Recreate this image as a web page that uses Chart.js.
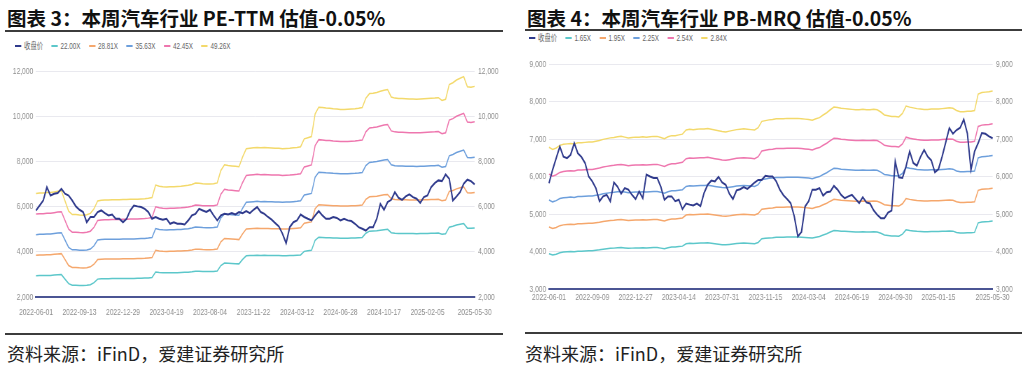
<!DOCTYPE html>
<html>
<head>
<meta charset="utf-8">
<script src="https://cdn.jsdelivr.net/npm/chart.js@4.4.1/dist/chart.umd.min.js"></script>
<style>
  body { margin: 0; width: 1022px; height: 372px; background: #fff; position: relative; overflow: hidden; font-family: "Noto Sans CJK SC", sans-serif; }
  .title { position: absolute; top: 7px; font-size: 19.5px; line-height: 22px; font-weight: bold; color: #111; white-space: nowrap; }
  .rule { position: absolute; height: 2px; background: #3c3c3c; }
  .src { position: absolute; top: 343px; font-size: 18px; line-height: 20px; color: #222; white-space: nowrap; }
  .legend { position: absolute; display: flex; font-family: "Liberation Sans", "Noto Sans CJK SC", sans-serif; font-size: 9px; line-height: 10px; color: #666; white-space: nowrap; transform: scaleX(0.7); transform-origin: 0 0; }
  .legend .item { display: flex; align-items: center; margin-right: 12px; }
  .legend .mark { width: 9px; height: 2px; margin-right: 4px; }
  canvas { position: absolute; transform: scaleX(0.7); transform-origin: 0 0; }
</style>
</head>
<body>
<div class="title" style="left:7px">图表 3：本周汽车行业 PE-TTM 估值-0.05%</div>
<div class="rule" style="left:5px;top:30px;width:498px"></div>
<div class="legend" id="peLegend" style="left:15px;top:41px"></div>
<canvas id="peChart" width="728" height="300" style="left:0;top:30px"></canvas>
<div class="rule" style="left:5px;top:333px;width:498px"></div>
<div class="src" style="left:7px">资料来源：iFinD，爱建证券研究所</div>

<div class="title" style="left:527px">图表 4：本周汽车行业 PB-MRQ 估值-0.05%</div>
<div class="rule" style="left:525px;top:29px;width:497px"></div>
<div class="legend" id="pbLegend" style="left:529px;top:33px"></div>
<canvas id="pbChart" width="728" height="300" style="left:512px;top:28px"></canvas>
<div class="rule" style="left:525px;top:332px;width:497px"></div>
<div class="src" style="left:525px">资料来源：iFinD，爱建证券研究所</div>

<script>
// ---- PE-TTM (chart 3) ----
const peTicks = ["2022-06-01", "2022-09-13", "2022-12-29", "2023-04-19", "2023-08-04", "2023-11-22", "2024-03-12", "2024-06-28", "2024-10-17", "2025-02-05", "2025-05-30"];
const peNames = ["收盘价", "22.00X", "28.81X", "35.63X", "42.45X", "49.26X"];

const peClose = [
  5830, 6050, 6270, 6860, 6490, 6570, 6600, 6790, 6570, 6490,
  6270, 6010, 5860, 5760, 5310, 5540, 5540, 5760, 5830, 5710,
  5610, 5650, 5460, 5460, 5310, 5460, 5830, 6050, 6010, 5980,
  5900, 5760, 5460, 5540, 5460, 5420, 5460, 5240, 5310, 5240,
  5240, 5210, 5390, 5610, 5680, 5900, 5830, 5760, 5860, 5610,
  5390, 5610, 5680, 5650, 5710, 5650, 5760, 5710, 5800, 5710,
  5860, 5980, 5760, 5680, 5540, 5420, 5270, 5120, 4800, 4380,
  5090, 5310, 5390, 5650, 5540, 5460, 5390, 5610, 5800, 5610,
  5460, 5460, 5540, 5500, 5390, 5460, 5390, 5360, 5240, 5090,
  5020, 4940, 5090, 5090, 5460, 6120, 5860, 6200, 6300, 6640,
  6390, 6300, 6450, 6540, 6420, 6350, 6160, 6420, 6490, 6860,
  7040, 7160, 7130, 7420, 7230, 6270, 6450, 6640, 7010, 7190,
  7130, 6980
];
const pe22 = [
  2939, 2948, 2948, 2956, 2956, 2970, 2983, 2992, 2791, 2590,
  2523, 2523, 2514, 2510, 2519, 2546, 2635, 2791, 2805, 2809,
  2809, 2814, 2814, 2814, 2818, 2818, 2823, 2823, 2827, 2831,
  2836, 2845, 2858, 3104, 3082, 3073, 3068, 3073, 3073, 3077,
  3082, 3091, 3099, 3117, 3144, 3140, 3131, 3126, 3126, 3131,
  3149, 3394, 3506, 3492, 3483, 3475, 3466, 3662, 3823, 3832,
  3841, 3850, 3841, 3845, 3841, 3836, 3832, 3832, 3823, 3827,
  3832, 3841, 3850, 3863, 4019, 4042, 4064, 4511, 4645, 4636,
  4627, 4622, 4613, 4609, 4600, 4600, 4604, 4609, 4613, 4622,
  4636, 4823, 4913, 4922, 4935, 4957, 4980, 4993, 4846, 4823,
  4814, 4814, 4810, 4805, 4805, 4801, 4805, 4810, 4814, 4819,
  4823, 4832, 4779, 4801, 5091, 5127, 5181, 5216, 5248, 5047,
  5038, 5055
];
const pe28 = [
  3849, 3860, 3860, 3872, 3872, 3890, 3907, 3919, 3656, 3392,
  3305, 3305, 3293, 3287, 3299, 3334, 3451, 3656, 3673, 3679,
  3679, 3685, 3685, 3685, 3691, 3691, 3697, 3697, 3702, 3708,
  3714, 3726, 3743, 4065, 4036, 4024, 4018, 4024, 4024, 4030,
  4036, 4048, 4059, 4083, 4118, 4112, 4100, 4094, 4094, 4100,
  4124, 4445, 4591, 4574, 4562, 4551, 4539, 4796, 5007, 5018,
  5030, 5042, 5030, 5036, 5030, 5024, 5018, 5018, 5007, 5013,
  5018, 5030, 5042, 5059, 5264, 5293, 5323, 5907, 6083, 6071,
  6060, 6054, 6042, 6036, 6024, 6024, 6030, 6036, 6042, 6054,
  6071, 6317, 6434, 6446, 6463, 6492, 6522, 6539, 6346, 6317,
  6305, 6305, 6299, 6294, 6294, 6288, 6294, 6299, 6305, 6311,
  6317, 6329, 6258, 6288, 6668, 6715, 6785, 6832, 6873, 6609,
  6598, 6621
];
const pe35 = [
  4759, 4774, 4774, 4788, 4788, 4810, 4832, 4846, 4521, 4195,
  4087, 4087, 4072, 4065, 4079, 4123, 4267, 4521, 4542, 4550,
  4550, 4557, 4557, 4557, 4564, 4564, 4571, 4571, 4579, 4586,
  4593, 4607, 4629, 5027, 4991, 4976, 4969, 4976, 4976, 4984,
  4991, 5005, 5020, 5049, 5092, 5085, 5070, 5063, 5063, 5070,
  5099, 5497, 5678, 5656, 5642, 5627, 5613, 5931, 6191, 6206,
  6220, 6235, 6220, 6228, 6220, 6213, 6206, 6206, 6191, 6199,
  6206, 6220, 6235, 6257, 6510, 6546, 6582, 7305, 7522, 7508,
  7493, 7486, 7472, 7464, 7450, 7450, 7457, 7464, 7472, 7486,
  7508, 7812, 7956, 7971, 7993, 8029, 8065, 8087, 7848, 7812,
  7797, 7797, 7790, 7783, 7783, 7775, 7783, 7790, 7797, 7804,
  7812, 7826, 7739, 7775, 8246, 8303, 8390, 8448, 8499, 8173,
  8159, 8188
];
const pe42 = [
  5671, 5688, 5688, 5705, 5705, 5731, 5757, 5774, 5386, 4998,
  4869, 4869, 4852, 4843, 4861, 4912, 5085, 5386, 5412, 5421,
  5421, 5429, 5429, 5429, 5438, 5438, 5447, 5447, 5455, 5464,
  5472, 5490, 5516, 5990, 5946, 5929, 5921, 5929, 5929, 5938,
  5946, 5964, 5981, 6015, 6067, 6058, 6041, 6033, 6033, 6041,
  6076, 6550, 6765, 6739, 6722, 6705, 6688, 7067, 7377, 7394,
  7411, 7429, 7411, 7420, 7411, 7403, 7394, 7394, 7377, 7386,
  7394, 7411, 7429, 7455, 7756, 7799, 7842, 8704, 8963, 8945,
  8928, 8920, 8902, 8894, 8877, 8877, 8885, 8894, 8902, 8920,
  8945, 9307, 9480, 9497, 9523, 9566, 9609, 9635, 9351, 9307,
  9290, 9290, 9282, 9273, 9273, 9264, 9273, 9282, 9290, 9299,
  9307, 9325, 9221, 9264, 9825, 9894, 9997, 10066, 10126, 9738,
  9721, 9756
];
const pe49 = [
  6580, 6600, 6600, 6620, 6620, 6650, 6680, 6700, 6250, 5800,
  5650, 5650, 5630, 5620, 5640, 5700, 5900, 6250, 6280, 6290,
  6290, 6300, 6300, 6300, 6310, 6310, 6320, 6320, 6330, 6340,
  6350, 6370, 6400, 6950, 6900, 6880, 6870, 6880, 6880, 6890,
  6900, 6920, 6940, 6980, 7040, 7030, 7010, 7000, 7000, 7010,
  7050, 7600, 7850, 7820, 7800, 7780, 7760, 8200, 8560, 8580,
  8600, 8620, 8600, 8610, 8600, 8590, 8580, 8580, 8560, 8570,
  8580, 8600, 8620, 8650, 9000, 9050, 9100, 10100, 10400, 10380,
  10360, 10350, 10330, 10320, 10300, 10300, 10310, 10320, 10330, 10350,
  10380, 10800, 11000, 11020, 11050, 11100, 11150, 11180, 10850, 10800,
  10780, 10780, 10770, 10760, 10760, 10750, 10760, 10770, 10780, 10790,
  10800, 10820, 10700, 10750, 11400, 11480, 11600, 11680, 11750, 11300,
  11280, 11320
];

// ---- PB-MRQ (chart 4) ----
const pbTicks = ["2022-06-01", "2022-09-09", "2022-12-27", "2023-04-14", "2023-07-31", "2023-11-15", "2024-03-04", "2024-06-19", "2024-09-30", "2025-01-15", "2025-05-30"];
const pbNames = ["收盘价", "1.65X", "1.95X", "2.25X", "2.54X", "2.84X"];

const pbClose = [
  5820, 6180, 6490, 6800, 6530, 6490, 6580, 6890, 6620, 6520,
  6360, 6000, 5870, 5690, 5340, 5470, 5510, 5340, 5840, 5730,
  5540, 5690, 5650, 5510, 5400, 5600, 5420, 6050, 6000, 5960,
  5960, 5730, 5380, 5470, 5470, 5340, 5380, 5130, 5280, 5250,
  5230, 5280, 5210, 5560, 5780, 5890, 5870, 5990, 5840, 5780,
  5540, 5400, 5630, 5660, 5720, 5670, 5750, 5840, 5910, 5910,
  6020, 6000, 6000, 5870, 5650, 5500, 5400, 5290, 4940, 4400,
  4520, 5200, 5340, 5650, 5650, 5690, 5490, 5580, 5600, 5750,
  5650, 5510, 5420, 5470, 5510, 5400, 5290, 5450, 5310, 5280,
  5100, 4980, 4890, 4890, 5040, 5090, 6400, 5980, 5960, 6270,
  6670, 6360, 6290, 6520, 6710, 6530, 6430, 6110, 6200, 6530,
  6910, 7290, 7140, 7240, 7300, 7520, 7150, 6180, 6670, 6890,
  7160, 7140, 7070, 7020
];
const pb165 = [
  3939, 3904, 3928, 3968, 3986, 3991, 3997, 3991, 4009, 4009,
  4015, 4021, 4021, 4032, 4044, 4061, 4073, 4084, 4090, 4102,
  4108, 4096, 4084, 4090, 4096, 4096, 4102, 4096, 4102, 4108,
  4108, 4090, 4073, 4102, 4119, 4119, 4131, 4143, 4206, 4218,
  4212, 4218, 4224, 4224, 4230, 4218, 4206, 4195, 4183, 4177,
  4189, 4201, 4212, 4218, 4224, 4218, 4212, 4206, 4241, 4340,
  4352, 4363, 4369, 4381, 4381, 4381, 4387, 4387, 4387, 4387,
  4381, 4375, 4369, 4358, 4381, 4398, 4439, 4474, 4520, 4561,
  4555, 4543, 4538, 4532, 4526, 4520, 4520, 4526, 4520, 4520,
  4526, 4520, 4485, 4439, 4427, 4416, 4416, 4410, 4462, 4578,
  4561, 4549, 4538, 4532, 4526, 4526, 4532, 4532, 4532, 4538,
  4543, 4549, 4543, 4509, 4491, 4491, 4497, 4497, 4509, 4764,
  4787, 4793, 4799, 4811
];
const pb195 = [
  4655, 4614, 4641, 4689, 4710, 4717, 4724, 4717, 4738, 4738,
  4744, 4751, 4751, 4765, 4779, 4799, 4813, 4827, 4834, 4847,
  4854, 4840, 4827, 4834, 4840, 4840, 4847, 4840, 4847, 4854,
  4854, 4834, 4813, 4847, 4868, 4868, 4882, 4895, 4971, 4985,
  4978, 4985, 4992, 4992, 4998, 4985, 4971, 4957, 4944, 4937,
  4950, 4964, 4978, 4985, 4992, 4985, 4978, 4971, 5012, 5129,
  5143, 5156, 5163, 5177, 5177, 5177, 5184, 5184, 5184, 5184,
  5177, 5170, 5163, 5150, 5177, 5198, 5246, 5287, 5342, 5390,
  5383, 5369, 5362, 5355, 5349, 5342, 5342, 5349, 5342, 5342,
  5349, 5342, 5301, 5246, 5232, 5218, 5218, 5211, 5273, 5410,
  5390, 5376, 5362, 5355, 5349, 5349, 5355, 5355, 5355, 5362,
  5369, 5376, 5369, 5328, 5307, 5307, 5314, 5314, 5328, 5630,
  5658, 5664, 5671, 5685
];
const pb225 = [
  5372, 5324, 5356, 5411, 5435, 5443, 5451, 5443, 5467, 5467,
  5475, 5483, 5483, 5499, 5514, 5538, 5554, 5570, 5578, 5594,
  5602, 5586, 5570, 5578, 5586, 5586, 5594, 5586, 5594, 5602,
  5602, 5578, 5554, 5594, 5617, 5617, 5633, 5649, 5736, 5752,
  5744, 5752, 5760, 5760, 5768, 5752, 5736, 5720, 5705, 5697,
  5712, 5728, 5744, 5752, 5760, 5752, 5744, 5736, 5784, 5918,
  5934, 5950, 5958, 5974, 5974, 5974, 5982, 5982, 5982, 5982,
  5974, 5966, 5958, 5942, 5974, 5998, 6053, 6101, 6164, 6220,
  6212, 6196, 6188, 6180, 6172, 6164, 6164, 6172, 6164, 6164,
  6172, 6164, 6116, 6053, 6037, 6021, 6021, 6014, 6085, 6243,
  6220, 6204, 6188, 6180, 6172, 6172, 6180, 6180, 6180, 6188,
  6196, 6204, 6196, 6148, 6124, 6124, 6132, 6132, 6148, 6497,
  6529, 6536, 6544, 6560
];
const pb254 = [
  6064, 6010, 6046, 6109, 6136, 6145, 6153, 6145, 6171, 6171,
  6180, 6189, 6189, 6207, 6225, 6252, 6270, 6288, 6297, 6314,
  6323, 6305, 6288, 6297, 6305, 6305, 6314, 6305, 6314, 6323,
  6323, 6297, 6270, 6314, 6341, 6341, 6359, 6377, 6475, 6493,
  6484, 6493, 6502, 6502, 6511, 6493, 6475, 6458, 6440, 6431,
  6449, 6467, 6484, 6493, 6502, 6493, 6484, 6475, 6529, 6681,
  6699, 6717, 6726, 6744, 6744, 6744, 6753, 6753, 6753, 6753,
  6744, 6735, 6726, 6708, 6744, 6771, 6833, 6887, 6958, 7021,
  7012, 6994, 6985, 6976, 6967, 6958, 6958, 6967, 6958, 6958,
  6967, 6958, 6905, 6833, 6815, 6797, 6797, 6789, 6869, 7048,
  7021, 7003, 6985, 6976, 6967, 6967, 6976, 6976, 6976, 6985,
  6994, 7003, 6994, 6940, 6914, 6914, 6923, 6923, 6940, 7334,
  7370, 7379, 7388, 7406
];
const pb284 = [
  6780, 6720, 6760, 6830, 6860, 6870, 6880, 6870, 6900, 6900,
  6910, 6920, 6920, 6940, 6960, 6990, 7010, 7030, 7040, 7060,
  7070, 7050, 7030, 7040, 7050, 7050, 7060, 7050, 7060, 7070,
  7070, 7040, 7010, 7060, 7090, 7090, 7110, 7130, 7240, 7260,
  7250, 7260, 7270, 7270, 7280, 7260, 7240, 7220, 7200, 7190,
  7210, 7230, 7250, 7260, 7270, 7260, 7250, 7240, 7300, 7470,
  7490, 7510, 7520, 7540, 7540, 7540, 7550, 7550, 7550, 7550,
  7540, 7530, 7520, 7500, 7540, 7570, 7640, 7700, 7780, 7850,
  7840, 7820, 7810, 7800, 7790, 7780, 7780, 7790, 7780, 7780,
  7790, 7780, 7720, 7640, 7620, 7600, 7600, 7590, 7680, 7880,
  7850, 7830, 7810, 7800, 7790, 7790, 7800, 7800, 7800, 7810,
  7820, 7830, 7820, 7760, 7730, 7730, 7740, 7740, 7760, 8200,
  8240, 8250, 8260, 8280
];

const seriesColors = ["#2f3a8c", "#5cc7ca", "#f5a76c", "#6d9fdc", "#ee76ae", "#f3d96b"];
const tickFont = { family: "'Liberation Sans', Arial, sans-serif", size: 9.5 };
const tickColor = "#8e8e8e";
const squash = 0.7; // the canvases are drawn wide and narrowed by CSS, like the source picture

// labels: a date every 12 points, the last date on the final point
function axisLabels(values, ticks, step) {
  const last = values.length - 1;
  return values.map((_, i) => {
    if (i === last) return ticks[ticks.length - 1];
    if (i % step === 0 && i / step < ticks.length - 1) return ticks[i / step];
    return "";
  });
}

function renderLegend(el, names) {
  el.innerHTML = names
    .map((n, i) => `<div class="item"><span class="mark" style="background:${seriesColors[i]}"></span><span>${n}</span></div>`)
    .join("");
}

function buildChart(canvasId, opts) {
  const datasets = opts.series.map((data, i) => ({
    label: opts.names[i],
    data,
    borderColor: seriesColors[i],
    borderWidth: i === 0 ? 2 : 1.5,
    pointRadius: 0,
    tension: 0,
    order: i === 0 ? 0 : 1,
  }));
  const yTicks = { font: tickFont, color: tickColor, stepSize: opts.step, callback: (v) => Number(v).toLocaleString("en-US") };
  return new Chart(document.getElementById(canvasId), {
    type: "line",
    data: { labels: axisLabels(opts.series[0], opts.ticks, 12), datasets },
    options: {
      responsive: false,
      animation: false,
      devicePixelRatio: 1,
      layout: { padding: { top: opts.top, bottom: 0, left: 0, right: 0 } },
      plugins: { legend: { display: false }, tooltip: { enabled: false } },
      scales: {
        x: {
          grid: { display: false, drawTicks: false },
          border: { color: "#4b5594", width: 2 },
          ticks: { autoSkip: false, maxRotation: 0, padding: opts.xPad, font: tickFont, color: tickColor },
          afterFit: (s) => { s.height = opts.xHeight; },
        },
        y: {
          min: opts.min, max: opts.max,
          grid: { color: "#e9e9ef", drawTicks: false },
          border: { display: false },
          ticks: { ...yTicks, padding: 4 },
          afterFit: (s) => { s.width = opts.leftW / squash; },
        },
        y2: {
          position: "right", display: true,
          min: opts.min, max: opts.max,
          grid: { display: false, drawTicks: false },
          border: { display: false },
          ticks: { ...yTicks, padding: 5 },
          afterFit: (s) => { s.width = opts.rightW / squash; },
        },
      },
    },
  });
}

renderLegend(document.getElementById("peLegend"), peNames);
renderLegend(document.getElementById("pbLegend"), pbNames);

buildChart("peChart", {
  series: [peClose, pe22, pe28, pe35, pe42, pe49],
  names: peNames, ticks: peTicks,
  min: 2000, max: 12000, step: 2000,
  top: 41, xHeight: 33, xPad: 10, leftW: 36, rightW: 35,
});

buildChart("pbChart", {
  series: [pbClose, pb165, pb195, pb225, pb254, pb284],
  names: pbNames, ticks: pbTicks,
  min: 3000, max: 9000, step: 1000,
  top: 36, xHeight: 39, xPad: 3, leftW: 37, rightW: 29,
});
</script>
</body>
</html>
